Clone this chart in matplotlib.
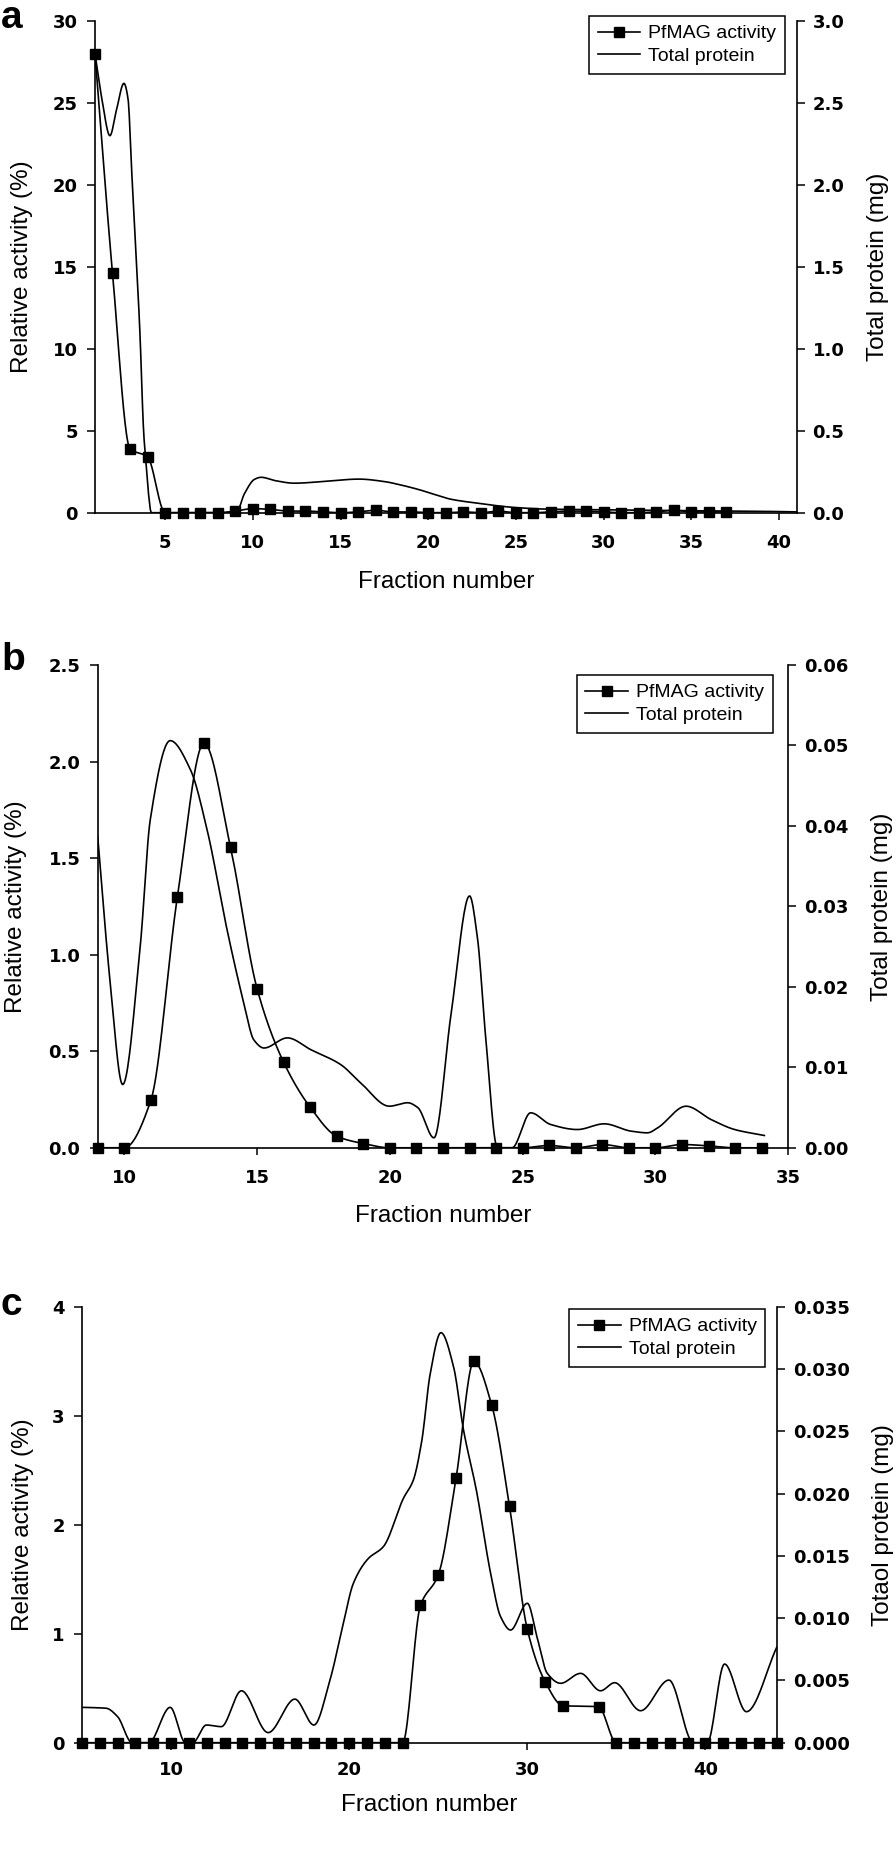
import matplotlib

matplotlib.use("Agg")
import matplotlib.pyplot as plt
import numpy as np
from matplotlib.lines import Line2D
from matplotlib.ticker import FormatStrFormatter

plt.rcParams["font.family"] = ["DejaVu Sans"]
plt.rcParams["font.weight"] = "bold"

W, H = 896, 1873

# ---- panel a ----
a_fraction = list(range(1, 38))
a_activity = [28.0, 14.6, 3.9, 3.4, 0, 0, 0, 0, 0.1, 0.25, 0.2, 0.1, 0.1, 0.05,
              0, 0.05, 0.15, 0.05, 0.05, 0, 0, 0.05, 0, 0.1, 0, 0, 0.05, 0.1,
              0.1, 0.05, 0, 0, 0.05, 0.15, 0.05, 0.05, 0.05]
a_protein_x = [1.0, 1.4, 1.85, 2.23, 2.65, 2.89, 3.08, 3.56, 3.78, 3.88, 4.09,
               4.2, 9.05, 9.53, 10.1, 10.47, 11.3, 12.36, 14.0, 16.05, 17.5,
               18.4, 19.5, 20.4, 21.3, 22.9, 24.8, 26.7, 30.0, 35.0, 39.3, 41.0]
a_protein_mg = [2.80, 2.52, 2.30, 2.46, 2.62, 2.52, 2.11, 1.10, 0.48, 0.34,
                0.077, 0.0, 0.0, 0.118, 0.204, 0.216, 0.195, 0.18, 0.19, 0.205,
                0.19, 0.17, 0.14, 0.11, 0.082, 0.057, 0.033, 0.022, 0.018,
                0.012, 0.008, 0.005]

# ---- panel b ----
b_fraction = list(range(9, 35))
b_activity = [0, 0, 0.245, 1.30, 2.095, 1.557, 0.824, 0.443, 0.21, 0.06, 0.022,
              0, 0, 0, 0, 0, 0, 0.012, 0, 0.017, 0, 0, 0.017, 0.01, 0, 0]
b_protein_x = [9.0, 9.46, 9.94, 10.6, 10.98, 11.73, 12.49, 13.12, 13.87, 14.5,
               14.88, 15.26, 16.14, 17.02, 18.15, 18.9, 19.98, 20.67, 21.05,
               21.66, 22.31, 23.0, 23.3, 23.6, 24.05, 24.6, 25.3, 26.05, 27.06,
               28.07, 29.08, 29.7, 30.08, 31.15, 32.1, 32.98, 34.1]
b_protein_mg = [0.0387, 0.0209, 0.00786, 0.025, 0.0408, 0.0506, 0.047, 0.0395,
                0.0271, 0.018, 0.0134, 0.0124, 0.01366, 0.0122, 0.01034,
                0.00807, 0.00517, 0.0056, 0.005, 0.00124, 0.0168, 0.0313,
                0.026, 0.014, 0.0, 0.0, 0.00435, 0.0029, 0.00227, 0.00298,
                0.00207, 0.00186, 0.00248, 0.00517, 0.0035, 0.00227, 0.00153]

# ---- panel c ----
c_fraction = list(range(5, 33)) + list(range(34, 45))
c_activity = [0] * 19 + [1.26, 1.54, 2.43, 3.50, 3.10, 2.17, 1.04, 0.56, 0.34,
                         0.33] + [0] * 10
c_protein_x = [5.0, 6.35, 7.0, 7.81, 8.75, 9.95, 10.81, 11.22, 11.98, 12.82,
               13.95, 15.45, 16.95, 18.02, 18.92, 19.67, 20.23, 21.07, 21.92,
               23.04, 23.6, 24.08, 24.55, 25.15, 25.86, 26.42, 27.14, 27.94,
               28.5, 29.06, 30.0, 30.56, 31.12, 31.87, 32.99, 34.11, 34.9,
               36.36, 37.95, 39.32, 40.1, 41.07, 42.3, 44.0]
c_protein_mg = [0.00284, 0.00277, 0.00209, 0.0, 0.0, 0.00284, 0.0, 0.0,
                0.00142, 0.00129, 0.00417, 0.00081, 0.0035, 0.00142, 0.00503,
                0.00958, 0.01279, 0.01479, 0.01575, 0.01962, 0.02109, 0.0243,
                0.02965, 0.03294, 0.03019, 0.0251, 0.02028, 0.0136, 0.01012,
                0.00905, 0.0112, 0.0084, 0.00557, 0.00477, 0.00557, 0.00417,
                0.00482, 0.00257, 0.00503, 0.0, 0.0, 0.00632, 0.00249, 0.00766]


def _smooth(x, y, num=800):
    """Shape-preserving cubic curve through the points (like the spline lines)."""
    x = np.asarray(x, dtype=float)
    y = np.asarray(y, dtype=float)
    h = np.diff(x)
    d = np.diff(y) / h
    m = np.zeros_like(y)
    for k in range(1, len(x) - 1):
        if d[k - 1] * d[k] > 0:
            w1 = 2 * h[k] + h[k - 1]
            w2 = h[k] + 2 * h[k - 1]
            m[k] = (w1 + w2) / (w1 / d[k - 1] + w2 / d[k])
    m[0], m[-1] = d[0], d[-1]
    xs = np.linspace(x[0], x[-1], num)
    i = np.clip(np.searchsorted(x, xs) - 1, 0, len(h) - 1)
    t = (xs - x[i]) / h[i]
    ys = ((2 * t**3 - 3 * t**2 + 1) * y[i] + (t**3 - 2 * t**2 + t) * h[i] * m[i]
          + (-2 * t**3 + 3 * t**2) * y[i + 1] + (t**3 - t**2) * h[i] * m[i + 1])
    return xs, ys


def _panel(box, letter, letter_pos, fraction, activity, prot_x, prot_mg, *,
           xlim, xticks, left_ticks, left_fmt, right_ticks, right_fmt,
           right_label, legend_anchor, ylab_x, ylab2_x, xlab_y, xpad):
    left, top, right, bottom = box
    fig_rect = [left / W, 1 - bottom / H, (right - left) / W, (bottom - top) / H]
    ax = fig.add_axes(fig_rect)
    ax2 = ax.twinx()

    xs, ys = _smooth(fraction, activity)
    ax.plot(xs, ys, color="black", lw=1.2)
    ax.plot(fraction, activity, "s", color="black", ms=7, clip_on=False, zorder=5)
    px, py = _smooth(prot_x, prot_mg)
    ax2.plot(px, py, color="black", lw=1.2)

    ax.set_xlim(*xlim)
    ax.set_ylim(left_ticks[0], left_ticks[-1])
    ax2.set_ylim(right_ticks[0], right_ticks[-1])
    ax.set_xticks(xticks)
    ax.set_yticks(left_ticks)
    ax2.set_yticks(right_ticks)
    ax.yaxis.set_major_formatter(FormatStrFormatter(left_fmt))
    ax2.yaxis.set_major_formatter(FormatStrFormatter(right_fmt))

    for a in (ax, ax2):
        a.spines["top"].set_visible(False)
        for s in a.spines.values():
            s.set_linewidth(1.2)
    ax.spines["right"].set_visible(False)
    ax2.spines["left"].set_visible(False)
    ax2.spines["bottom"].set_visible(False)

    ax.tick_params(axis="y", direction="out", length=6, width=1.1, pad=6.5, labelsize=13)
    ax.tick_params(axis="x", direction="out", length=5, width=1.1, pad=xpad, labelsize=13)
    ax2.tick_params(axis="y", direction="out", length=5.5, width=1.1, pad=6, labelsize=13)

    lab = {"family": ["Liberation Sans", "DejaVu Sans"], "fontsize": 17.5,
           "fontweight": "normal"}
    ax.set_xlabel("Fraction number", **lab)
    ax.set_ylabel("Relative activity (%)", **lab)
    ax2.set_ylabel(right_label, **lab)
    ax.xaxis.label.set_verticalalignment("center")
    ax.yaxis.label.set_verticalalignment("center")
    ax2.yaxis.label.set_verticalalignment("center")
    ax.xaxis.set_label_coords(0.5, xlab_y)
    ax.yaxis.set_label_coords(ylab_x, 0.5)
    ax2.yaxis.set_label_coords(ylab2_x, 0.5)

    handles = [Line2D([], [], color="black", lw=1.2, marker="s", ms=7),
               Line2D([], [], color="black", lw=1.2)]
    leg = ax2.legend(handles, ["PfMAG activity", "Total protein"],
                     loc="upper right", bbox_to_anchor=legend_anchor,
                     borderaxespad=0, fancybox=False, framealpha=1,
                     edgecolor="black", handlelength=2.2, handletextpad=0.4,
                     borderpad=0.45, labelspacing=0.25,
                     prop={"family": ["Liberation Sans", "DejaVu Sans"],
                           "size": 14, "weight": "normal"})
    leg.get_frame().set_linewidth(1.1)

    ly, lva = letter_pos
    fig.text(1 / W, 1 - ly / H, letter, fontsize=28, fontweight="bold",
             family=["Liberation Sans", "DejaVu Sans"], va=lva)
    return ax, ax2


fig = plt.figure(figsize=(W / 100, H / 100), dpi=100)

_panel((95, 21, 796.5, 512.7), "a", (0.5, "top"), a_fraction, a_activity,
       a_protein_x, a_protein_mg,
       xlim=(1, 41), xticks=list(range(5, 41, 5)),
       left_ticks=list(range(0, 31, 5)), left_fmt="%d",
       right_ticks=[0.0, 0.5, 1.0, 1.5, 2.0, 2.5, 3.0], right_fmt="%.1f",
       right_label="Total protein (mg)", legend_anchor=(0.9836, 1.0102),
       ylab_x=-0.1034, ylab2_x=1.1158, xlab_y=-0.1403, xpad=10)

_panel((97.7, 665, 788.3, 1147.8), "b", (670, "baseline"), b_fraction, b_activity,
       b_protein_x, b_protein_mg,
       xlim=(9, 35), xticks=list(range(10, 36, 5)),
       left_ticks=[0.0, 0.5, 1.0, 1.5, 2.0, 2.5], left_fmt="%.1f",
       right_ticks=[0.0, 0.01, 0.02, 0.03, 0.04, 0.05, 0.06], right_fmt="%.2f",
       right_label="Total protein (mg)", legend_anchor=(0.9774, 0.979),
       ylab_x=-0.1187, ylab2_x=1.1354, xlab_y=-0.1413, xpad=10)

_panel((82, 1307, 776.7, 1742.7), "c", (1315, "baseline"), c_fraction, c_activity,
       c_protein_x, c_protein_mg,
       xlim=(5, 44), xticks=[10, 20, 30, 40],
       left_ticks=[0, 1, 2, 3, 4], left_fmt="%d",
       right_ticks=[0.0, 0.005, 0.01, 0.015, 0.02, 0.025, 0.03, 0.035],
       right_fmt="%.3f",
       right_label="Totaol protein (mg)", legend_anchor=(0.9836, 0.9954),
       ylab_x=-0.0851, ylab2_x=1.1523, xlab_y=-0.143, xpad=8)

fig.savefig("out.png", dpi=100)
